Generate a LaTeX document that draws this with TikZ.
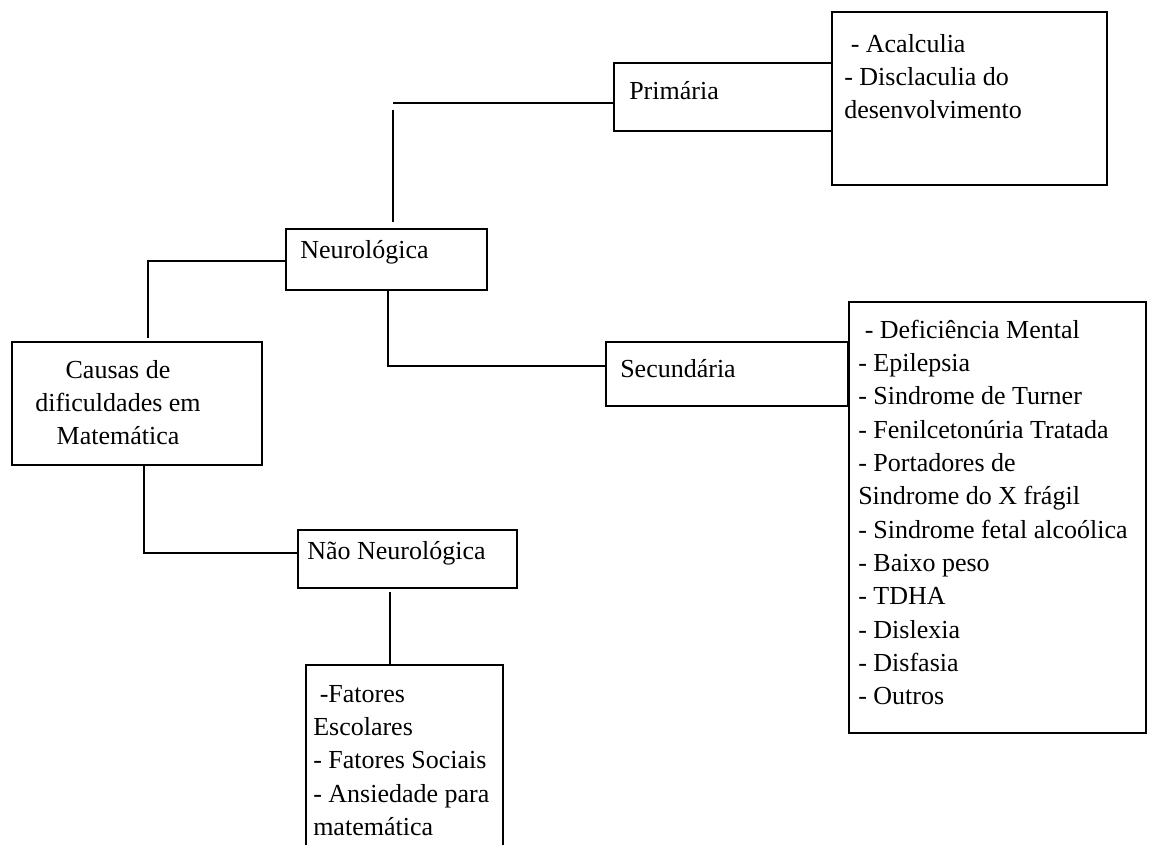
\documentclass[tikz,border=0pt]{standalone}
\usepackage{fontspec}
\setmainfont{Liberation Serif}
\usetikzlibrary{fit}
\begin{document}
\begin{tikzpicture}[x=0.75pt,y=-0.75pt,
  box/.style={draw, line width=1.3pt, inner sep=0pt},
  txt/.style={inner sep=0pt, anchor=north west, align=left,
    font=\fontsize{19.5}{25}\selectfont},
  link/.style={line width=1.2pt}]
\clip (0,0) rectangle (1149,844);
\fill[white] (0,0) rectangle (1149,844);

% boxes
\node[box, fit={(12,342) (262,465)}] (causas) {};
\node[box, fit={(286,229) (487,290)}] (neuro) {};
\node[box, fit={(614,63) (832,131)}] (prim) {};
\node[box, fit={(832,12) (1107,185)}] (acal) {};
\node[box, fit={(606,342) (848,406)}] (sec) {};
\node[box, fit={(849,302) (1146,733)}] (list) {};
\node[box, fit={(298,530) (517,588)}] (nao) {};
\node[box, fit={(306,665) (503,880)}] (fat) {};

% texts
\node[txt, anchor=north, align=center] (causast) at (118,354.7)
  {\strut Causas de\\dificuldades em\\Matemática};
\node[txt] (neurot) at (300,235) {\strut Neurológica};
\node[txt] (primt) at (629,75.7) {\strut Primária};
\node[txt] (acalt) at (844,28.7)
  {\strut\ - Acalculia\\- Disclaculia do\\desenvolvimento};
\node[txt] (sect) at (620,353.7) {\strut Secundária};
\node[txt] (listt) at (858,314.7)
  {\strut\ - Deficiência Mental\\
   - Epilepsia\\
   - Sindrome de Turner\\
   - Fenilcetonúria Tratada\\
   - Portadores de\\
   Sindrome do X frágil\\
   - Sindrome fetal alcoólica\\
   - Baixo peso\\
   - TDHA\\
   - Dislexia\\
   - Disfasia\\
   - Outros};
\node[txt] (naot) at (307,535.7) {\strut Não Neurológica};
\node[txt] (fatt) at (313,678.7)
  {\strut\ -Fatores\\Escolares\\- Fatores Sociais\\- Ansiedade para\\matemática};

% connectors
\coordinate (nupA) at (393,222);
\coordinate (nupB) at (393,110);
\coordinate (pcorner) at (393,103);
\draw[link] (nupA) -- (nupB);
\draw[link] (pcorner) -- (pcorner -| prim.west);

\coordinate (ctop) at (148,338);
\draw[link] (neuro.west |- 0,261) -| (ctop);

\coordinate (scorner) at (388,366);
\draw[link] (neuro.south -| scorner) -- (scorner) -- (scorner -| sec.west);

\coordinate (ncorner) at (144,553);
\draw[link] (causas.south -| ncorner) -- (ncorner) -- (ncorner -| nao.west);

\coordinate (fa) at (390,592);
\draw[link] (fa) -- (fa |- fat.north);
\end{tikzpicture}
\end{document}
